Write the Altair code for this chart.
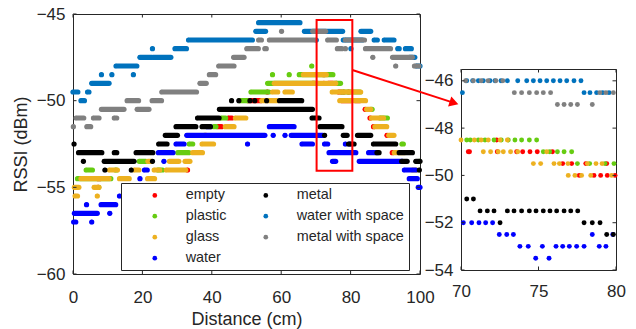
import altair as alt
import pandas as pd

# ---------------- data ----------------
SERIES = ["empty", "plastic", "glass", "water", "metal",
          "water with space", "metal with space"]
COLORS = ["#FF0000", "#66CC11", "#EDB120", "#0000FF", "#000000",
          "#0072BD", "#808080"]

# runs of consecutive samples: (RSSI level dBm, first distance cm, last distance cm)
EMPTY_RUNS = [(-55, 7.2, 7.2), (-54.5, 7.3, 7.7), (-54, 33.0, 33.0), (-52, 38.3, 38.3),
              (-51.5, 41.8, 42.8), (-51, 44.8, 45.8), (-50, 50.5, 54.0), (-49.5, 56.0, 56.0),
              (-49, 69.1, 69.5), (-49, 70.5, 70.5), (-49, 72.3, 72.3), (-49, 73.6, 74.9),
              (-49, 75.9, 75.9), (-48.5, 72.3, 72.3), (-49.5, 76.6, 77.1), (-49.5, 78.0, 78.0),
              (-49.5, 79.4, 79.4), (-50, 77.6, 79.9), (-50, 81.5, 82.5), (-50.5, 84.2, 84.2),
              (-51, 85.6, 85.6), (-51.5, 86.6, 86.6), (-52, 90.5, 90.5), (-53, 92.0, 92.0)]
PLASTIC_RUNS = [(-54.5, 1.3, 10.9), (-55, 7.4, 7.4), (-54, 3.8, 5.6), (-54, 12.3, 12.5),
                (-54, 24.5, 25.8), (-53.5, 19.1, 21.0), (-53, 30.2, 33.4), (-52.5, 33.5, 34.5),
                (-52, 37.9, 37.9), (-51.5, 40.6, 41.2), (-51, 42.8, 44.0), (-50, 48.1, 50.3),
                (-49.5, 51.3, 56.5), (-49, 56.1, 70.0), (-48.5, 57.5, 57.5), (-48.5, 62.3, 62.3),
                (-48.5, 65.2, 74.9), (-48, 68.8, 68.8), (-49, 75.3, 77.1), (-49.5, 77.5, 82.7),
                (-50.5, 85.9, 86.2), (-51, 88.5, 90.6), (-52.5, 94.8, 95.2), (-53.5, 99.8, 99.8)]
GLASS_RUNS = [(-55.5, 0.6, 1.3), (-55.5, 7.0, 7.0), (-55, 0.4, 1.7), (-55, 6.1, 7.5),
              (-54.5, 2.3, 10.4), (-54.5, 13.4, 16.2), (-54.5, 21.5, 23.5), (-54, 10.5, 12.8),
              (-54, 17.7, 19.0), (-54, 23.4, 25.0), (-54, 26.9, 32.5), (-53.5, 21.6, 22.6),
              (-53.5, 27.8, 30.5), (-53.5, 32.3, 33.7), (-53, 34.5, 37.3), (-52.5, 37.2, 40.5),
              (-51.5, 43.9, 46.4), (-51, 46.8, 49.8), (-50, 54.4, 58.7), (-49.5, 57.5, 59.0),
              (-49.5, 61.1, 63.2), (-49, 58.0, 75.7), (-48.5, 66.4, 73.0), (-49.5, 74.7, 82.9),
              (-50, 76.9, 84.3), (-50.5, 84.6, 85.8), (-51, 86.0, 89.5), (-51.5, 87.0, 90.4),
              (-52, 91.0, 92.5), (-53, 92.6, 95.4), (-54, 97.9, 99.0)]
WATER_RUNS = [(-57, 0.2, 0.8), (-57, 5.4, 5.4), (-56.5, 0.4, 7.0), (-56.5, 10.6, 10.6),
              (-56, 3.9, 3.9), (-56, 8.1, 12.3), (-55.5, 13.4, 13.4), (-54.5, 19.3, 19.3),
              (-54, 20.6, 21.4), (-53.5, 26.2, 26.2), (-53, 24.6, 28.8), (-52.5, 29.7, 32.0),
              (-52.5, 50.3, 50.3), (-52, 32.8, 55.3), (-52, 57.7, 57.7), (-52, 61.1, 61.1),
              (-52, 62.9, 72.0), (-51.5, 38.7, 39.5), (-51.5, 56.6, 63.7), (-52.5, 66.0, 69.0),
              (-52.5, 72.5, 73.4), (-52.5, 78.5, 78.5), (-52.5, 79.8, 79.8), (-53, 73.8, 81.5),
              (-53, 85.2, 87.7), (-53.5, 74.8, 75.7), (-53.5, 82.5, 94.9), (-54, 95.5, 98.8),
              (-54.5, 96.9, 99.2), (-55, 99.5, 100.0)]
METAL_RUNS = [(-53, 1.6, 8.3), (-53, 11.9, 12.6), (-53, 18.2, 23.0), (-52.5, 0.3, 0.3),
              (-52.5, 24.7, 27.1), (-53.5, 3.0, 3.0), (-53.5, 9.0, 17.6), (-53.5, 22.9, 22.9),
              (-54, 9.2, 9.2), (-54, 16.8, 16.8), (-52, 26.6, 30.1), (-51.5, 29.7, 35.4),
              (-51.5, 37.2, 39.6), (-51, 35.9, 42.1), (-50.5, 42.2, 69.0), (-50, 45.7, 45.7),
              (-50, 47.8, 47.8), (-50, 51.0, 51.0), (-50, 52.4, 52.4), (-50, 55.8, 55.8),
              (-50, 59.5, 65.9), (-51, 68.9, 70.9), (-51.5, 71.2, 77.5), (-52, 72.5, 72.5),
              (-52, 77.9, 79.0), (-52, 82.0, 85.8), (-52.5, 79.4, 81.0), (-52.5, 86.6, 93.0),
              (-53, 87.6, 88.2), (-53, 94.0, 97.8), (-53.5, 94.7, 96.3), (-53.5, 98.8, 100.0),
              (-54, 99.8, 99.8)]
WWS_RUNS = [(-49.5, 0.0, 1.4), (-49.5, 4.2, 4.6), (-50, 2.3, 3.3), (-49, 5.4, 10.4),
            (-48.5, 8.2, 8.2), (-48.5, 11.2, 11.2), (-48.5, 17.4, 17.4), (-48, 12.4, 18.4),
            (-47.5, 19.3, 22.7), (-47.5, 23.1, 28.2), (-47, 22.9, 22.9), (-47, 29.4, 32.7),
            (-46.5, 33.3, 51.7), (-46, 52.7, 55.5), (-45.5, 53.5, 65.4), (-46, 66.7, 77.7),
            (-46, 83.0, 85.8), (-46.5, 70.1, 70.1), (-46.5, 77.9, 83.4), (-46.5, 86.8, 87.7),
            (-46.5, 89.7, 92.5), (-47, 80.1, 80.1), (-47, 93.6, 94.0), (-47, 95.8, 97.5),
            (-47.5, 97.0, 98.5), (-48, 99.0, 100.0)]
MWS_RUNS = [(-51.5, 0.1, 0.1), (-51.5, 4.0, 5.1), (-51, 0.9, 3.1), (-51, 5.9, 7.5),
            (-51, 11.9, 12.6), (-50.5, 8.2, 14.7), (-50.5, 18.5, 21.9), (-50, 15.6, 18.9),
            (-50, 22.8, 25.5), (-49.5, 25.6, 35.6), (-49, 36.6, 38.4), (-48.5, 39.3, 41.1),
            (-48, 42.0, 46.4), (-47.5, 46.3, 49.3), (-47, 50.1, 53.4), (-47, 55.3, 55.7),
            (-46.5, 53.5, 54.3), (-46.5, 56.6, 69.5), (-46, 60.1, 60.1), (-46, 69.1, 72.8),
            (-46.5, 73.4, 75.9), (-46.5, 78.5, 84.0), (-47, 76.2, 77.5), (-47, 78.5, 78.5),
            (-47, 84.3, 91.5), (-47.5, 86.4, 86.4), (-47.5, 92.1, 97.8), (-48, 93.0, 93.0),
            (-48, 98.4, 99.7)]
RUNS = {"empty": EMPTY_RUNS, "plastic": PLASTIC_RUNS, "glass": GLASS_RUNS,
        "water": WATER_RUNS, "metal": METAL_RUNS, "water with space": WWS_RUNS,
        "metal with space": MWS_RUNS}

# zoomed window 70-80 cm: individual samples, level -> distances
INSET_EMPTY = {-48.5: [72.3], -49: [70.47, 70.55, 72.34, 73.59, 73.98, 74.45, 74.92, 75.9],
               -49.5: [76.56, 77.14, 78.05, 79.4], -50: [77.63, 78.58, 79.01, 79.44, 79.94]}
INSET_PLASTIC = {-48.5: [70.37, 70.6, 71.12, 71.55, 72.13, 72.6, 73.05, 73.48, 73.91, 74.41, 74.88],
                 -49: [75.31, 75.72, 76.22, 76.65, 77.14], -49.5: [77.51, 78.3, 79.29, 79.87]}
INSET_GLASS = {-48.5: [70.0, 70.86, 71.3, 71.76, 72.52, 72.99],
               -49: [71.44, 71.91, 72.4, 72.73, 73.2, 73.66, 75.53],
               -49.5: [74.67, 75.14, 76.0, 76.35, 76.9, 78.15, 78.71, 79.1],
               -50: [76.92, 77.35, 77.78, 78.37, 79.72]}
INSET_WATER = {-52: [70.15, 70.69, 71.16, 71.59, 72.04],
               -52.5: [72.47, 72.95, 73.38, 78.47, 79.79],
               -53: [73.8, 74.34, 75.25, 76.13, 76.56, 76.99, 77.46, 77.94, 78.92, 79.35],
               -53.5: [74.82, 75.68]}
INSET_METAL = {-51: [70.37, 70.8],
               -51.5: [71.23, 71.70, 72.13, 72.99, 73.42, 73.91, 74.41, 74.84, 75.31, 75.74,
                       76.17, 76.65, 77.08, 77.53],
               -52: [72.52, 77.94, 78.47, 78.97], -52.5: [79.4, 79.83]}
INSET_WWS = {-46: [70.37, 70.75, 71.12, 71.44, 71.87, 72.19, 72.58, 72.99, 73.66, 74.24, 74.67,
                   75.10, 75.53, 75.96, 76.39, 76.82, 77.29, 77.74],
             -46.5: [70.09, 77.94, 78.32, 78.75, 79.14, 79.55]}
INSET_MWS = {-46: [70.3, 70.8, 71.3, 71.75, 72.25, 72.7],
             -46.5: [73.44, 73.91, 74.41, 74.88, 75.31, 75.78, 78.96, 79.35, 79.83],
             -47: [76.22, 76.65, 77.08, 77.51, 78.47]}
INSET = {"empty": INSET_EMPTY, "plastic": INSET_PLASTIC, "glass": INSET_GLASS,
         "water": INSET_WATER, "metal": INSET_METAL, "water with space": INSET_WWS,
         "metal with space": INSET_MWS}

X_DOMAIN = [0, 100]
Y_DOMAIN = [-60, -45]
X_TICKS = [0, 20, 40, 60, 80, 100]
Y_TICKS = [-60, -55, -50, -45]
INSET_X_DOMAIN = [70, 80]
INSET_Y_DOMAIN = [-54, -45.5]
INSET_X_TICKS = [70, 75, 80]
INSET_Y_TICKS = [-54, -52, -50, -48, -46]
ZOOM_BOX = {"x": [70.2], "x2": [80.5], "y": [-45.35], "y2": [-54.05]}
ARROW = {"x": [80.5], "y": [-48.23], "x2": [109.8], "y2": [-50.13]}

# ---------------- tables ----------------
run_rows, start_rows, inset_rows = [], [], []
for z, s in enumerate(SERIES):
    for lvl, a, b in RUNS[s]:
        run_rows.append({"series": s, "z": z, "y": lvl, "x": a, "x2": b})
        start_rows.append({"series": s, "z": z, "y": lvl, "x": a})
    for lvl, xs_ in INSET[s].items():
        for xv in xs_:
            inset_rows.append({"series": s, "z": z, "y": lvl, "x": xv})
runs_df = pd.DataFrame(run_rows)
starts_df = pd.DataFrame(start_rows)
inset_df = pd.DataFrame(inset_rows)

# ---------------- style ----------------
AX = "#262626"
FONT = "Liberation Sans"
W, H = 347, 260
IW, IH = 155, 201
TICK = 3.5

cs = alt.Scale(domain=SERIES, range=COLORS)


def axis(values, title, lpad, tpad):
    return alt.Axis(values=values, title=title, grid=False, domain=False, ticks=False,
                    labelFont=FONT, labelFontSize=17, labelColor=AX, labelPadding=lpad,
                    labelFlush=False, labelOverlap=False, titleFont=FONT, titleFontSize=18,
                    titleFontWeight="normal", titleColor=AX, titlePadding=tpad)


def ticks_layers(xscale, yscale, xt, yt, xaxis, yaxis, w, h):
    xd = pd.DataFrame({"x": xt})
    yd = pd.DataFrame({"y": yt})
    base_x = alt.Chart(xd).mark_rule(color=AX, strokeWidth=1)
    base_y = alt.Chart(yd).mark_rule(color=AX, strokeWidth=1)
    X = alt.X("x:Q", scale=xscale, axis=xaxis)
    Y = alt.Y("y:Q", scale=yscale, axis=yaxis)
    return [
        base_x.encode(x=X, y=alt.value(h), y2=alt.value(h - TICK)),
        base_x.encode(x=X, y=alt.value(0), y2=alt.value(TICK)),
        base_y.encode(y=Y, x=alt.value(0), x2=alt.value(TICK)),
        base_y.encode(y=Y, x=alt.value(w), x2=alt.value(w - TICK)),
    ]


# ---------------- main panel ----------------
xs = alt.Scale(domain=X_DOMAIN, nice=False, zero=False)
ys = alt.Scale(domain=Y_DOMAIN, nice=False, zero=False)
x_axis = axis(X_TICKS, "Distance (cm)", 15, 5)
y_axis = axis(Y_TICKS, "RSSI (dBm)", 8, 6)

legend = alt.Legend(title=None, orient="none", legendX=48, legendY=169, columns=2,
                    fillColor="white", strokeColor=AX, padding=5, symbolType="circle",
                    symbolSize=22, symbolStrokeWidth=0, labelFont=FONT, labelFontSize=14.4,
                    labelColor=AX, symbolOffset=21.6, labelOffset=23.7, columnPadding=10,
                    rowPadding=6, labelLimit=0)

starts = alt.Chart(starts_df).mark_circle(size=20, opacity=1).encode(
    x=alt.X("x:Q", scale=xs, axis=x_axis),
    y=alt.Y("y:Q", scale=ys, axis=y_axis),
    color=alt.Color("series:N", scale=cs, legend=legend),
    order=alt.Order("z:Q"),
)
runs = alt.Chart(runs_df).mark_rule(strokeWidth=5.2, strokeCap="round", opacity=1).encode(
    x=alt.X("x:Q", scale=xs, axis=x_axis),
    x2="x2:Q",
    y=alt.Y("y:Q", scale=ys, axis=y_axis),
    color=alt.Color("series:N", scale=cs, legend=None),
    order=alt.Order("z:Q"),
)
box = alt.Chart(pd.DataFrame(ZOOM_BOX)).mark_rect(fillOpacity=0, stroke="#FF0000", strokeWidth=2).encode(
    x=alt.X("x:Q", scale=xs, axis=x_axis), x2="x2:Q",
    y=alt.Y("y:Q", scale=ys, axis=y_axis), y2="y2:Q",
)
arrow = alt.Chart(pd.DataFrame(ARROW)).mark_rule(color="#FF0000", strokeWidth=2).encode(
    x=alt.X("x:Q", scale=xs, axis=x_axis), x2="x2:Q",
    y=alt.Y("y:Q", scale=ys, axis=y_axis), y2="y2:Q",
)
head = alt.Chart(pd.DataFrame(ARROW)).mark_point(shape="triangle-right", filled=True, size=110,
                                                 angle=18, color="#FF0000", opacity=1).encode(
    x=alt.X("x2:Q", scale=xs, axis=x_axis),
    y=alt.Y("y2:Q", scale=ys, axis=y_axis),
)
main = alt.layer(starts, runs,
                 *ticks_layers(xs, ys, X_TICKS, Y_TICKS, x_axis, y_axis, W, H),
                 box, arrow, head).properties(width=W, height=H)

# ---------------- inset panel ----------------
ixs = alt.Scale(domain=INSET_X_DOMAIN, nice=False, zero=False)
iys = alt.Scale(domain=INSET_Y_DOMAIN, nice=False, zero=False)
ix_axis = axis(INSET_X_TICKS, None, 13, 5)
iy_axis = axis(INSET_Y_TICKS, None, 8, 5)
pts = alt.Chart(inset_df).mark_circle(size=24, opacity=1).encode(
    x=alt.X("x:Q", scale=ixs, axis=ix_axis),
    y=alt.Y("y:Q", scale=iys, axis=iy_axis),
    color=alt.Color("series:N", scale=cs, legend=None),
    order=alt.Order("z:Q"),
)
inset = alt.layer(pts, *ticks_layers(ixs, iys, INSET_X_TICKS, INSET_Y_TICKS, ix_axis, iy_axis, IW, IH)
                  ).properties(width=IW, height=IH)

spacer = alt.Chart(pd.DataFrame({"x": [0]})).mark_point(opacity=0).encode(
    x=alt.value(0), y=alt.value(0)
).properties(width=IW, height=55, view=alt.ViewBackground(strokeOpacity=0))

right = alt.vconcat(spacer, inset, spacing=0, bounds="flush")

chart = alt.hconcat(main, right, spacing=41, bounds="flush").resolve_scale(
    x="independent", y="independent", color="independent"
).properties(
    padding={"left": 11, "top": 4, "right": 5, "bottom": 5}
).configure_view(stroke=AX, strokeWidth=1)

chart.save("out.html", embed_options={"renderer": "svg", "actions": False})
